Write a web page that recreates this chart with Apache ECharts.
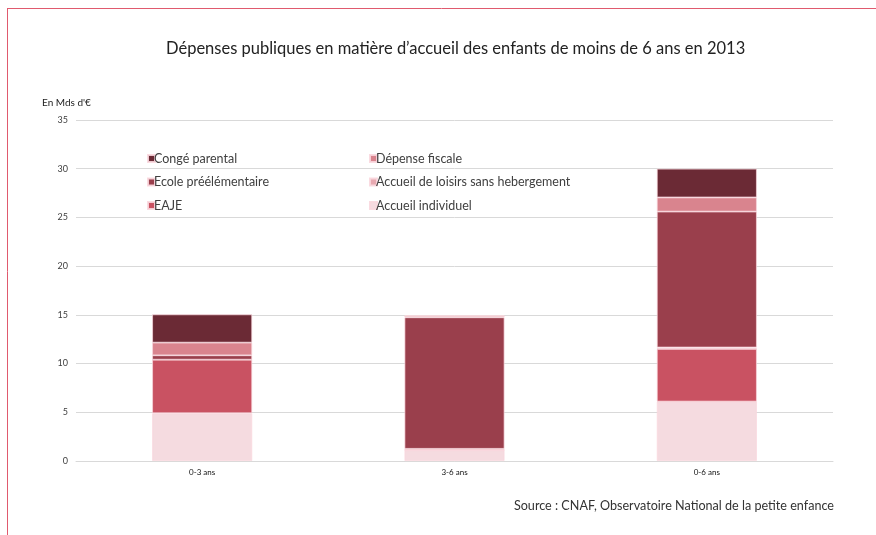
<!DOCTYPE html>
<html>
<head>
<meta charset="utf-8">
<script src="https://cdn.jsdelivr.net/npm/echarts@6/dist/echarts.min.js"></script>
<style>html,body{margin:0;padding:0;background:#fff;}#c{width:876px;height:535px;}</style>
</head>
<body>
<div id="c"></div>
<script>
const categories = ['0-3 ans', '3-6 ans', '0-6 ans'];
const accueilIndividuel = [4.9, 1.1, 6.1];
const eaje = [5.5, 0, 5.4];
const accueilLoisirs = [0, 0.15, 0.15];
const ecole = [0.45, 13.5, 13.95];
const depenseFiscale = [1.3, 0.15, 1.45];
const congeParental = [2.9, 0, 2.95];
const yTicks = [0, 5, 10, 15, 20, 25, 30, 35];

const FONT = 'Lato';
const seriesDefs = [
  {name: 'Accueil individuel', data: accueilIndividuel, color: '#f5dbe0'},
  {name: 'EAJE', data: eaje, color: '#c95262'},
  {name: 'Accueil de loisirs sans hebergement', data: accueilLoisirs, color: '#e8a9b1'},
  {name: 'Ecole préélémentaire', data: ecole, color: '#9a3f4c'},
  {name: 'Dépense fiscale', data: depenseFiscale, color: '#d9848e'},
  {name: 'Congé parental', data: congeParental, color: '#6b2a35'}
];

const chart = echarts.init(document.getElementById('c'));
const legendCommon = {
  orient: 'vertical', icon: 'rect', itemWidth: 7, itemHeight: 7, itemGap: 10.5,
  textStyle: {fontFamily: FONT, fontSize: 12.5, color: '#404040', padding: [5, 0, 0, -6]},
  selectedMode: false
};
chart.setOption({
  animation: false,
  textStyle: {fontFamily: FONT},
  title: [{
    text: 'Dépenses publiques en matière d\u2019accueil des enfants de moins de 6 ans en 2013',
    left: 161, top: 35,
    textStyle: {fontFamily: FONT, fontSize: 16.5, fontWeight: 'normal', color: '#222'}
  }, {
    text: 'Source : CNAF, Observatoire National de la petite enfance',
    right: 37, top: 494,
    textStyle: {fontFamily: FONT, fontSize: 12.6, fontWeight: 'normal', color: '#333'}
  }, {
    text: "En Mds d'€", left: 37, top: 93,
    textStyle: {fontFamily: FONT, fontSize: 10, fontWeight: 'normal', color: '#222'}
  }],
  legend: [
    Object.assign({}, legendCommon, {left: 142, top: 147, data: ['Congé parental', 'Ecole préélémentaire', 'EAJE']}),
    Object.assign({}, legendCommon, {left: 364, top: 147, data: ['Dépense fiscale', 'Accueil de loisirs sans hebergement', 'Accueil individuel']})
  ],
  grid: {left: 76, right: 43, top: 120, bottom: 74},
  xAxis: {
    type: 'category', data: categories,
    axisLine: {lineStyle: {color: '#d9d9d9', width: 1}},
    axisTick: {show: false},
    axisLabel: {fontFamily: FONT, fontSize: 8, color: '#111', margin: 7}
  },
  yAxis: {
    type: 'value', min: yTicks[0], max: yTicks[yTicks.length - 1], interval: 5,
    axisLine: {show: false}, axisTick: {show: false},
    axisLabel: {fontFamily: FONT, fontSize: 9, color: '#404040', margin: 8},
    splitLine: {lineStyle: {color: '#d9d9d9', width: 1}}
  },
  series: seriesDefs.map(s => ({
    name: s.name, type: 'bar', stack: 'total', data: s.data, barWidth: 100,
    itemStyle: {color: s.color, borderColor: 'rgba(250,215,222,0.9)', borderWidth: 0.8}
  })),
  graphic: [
    {type: 'line', shape: {x1: 7, y1: 8.5, x2: 876, y2: 8.5}, style: {stroke: '#e05a6e', lineWidth: 1}},
    {type: 'line', shape: {x1: 7.5, y1: 8, x2: 7.5, y2: 535}, style: {stroke: '#e05a6e', lineWidth: 1}}
  ]
});
</script>
</body>
</html>
